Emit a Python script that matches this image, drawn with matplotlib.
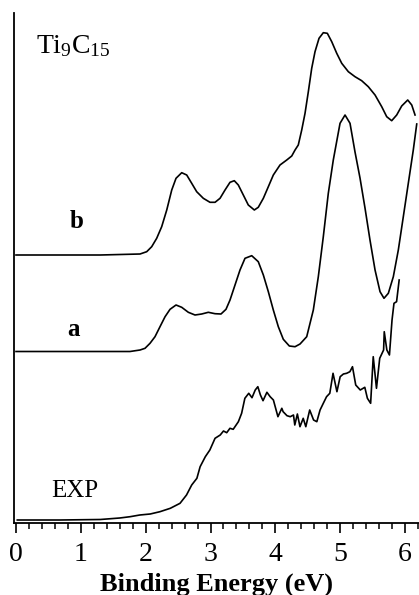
import matplotlib
matplotlib.use("Agg")
import matplotlib.pyplot as plt
from matplotlib.ticker import MultipleLocator

plt.rcParams['font.family'] = ['Liberation Serif', 'DejaVu Serif']
plt.rcParams['mathtext.fontset'] = 'custom'
plt.rcParams['mathtext.rm'] = 'Liberation Serif'

# calculated spectrum b (offset trace, top)
energy_b = [0.000, 0.700, 1.300, 1.913, 2.016, 2.093, 2.170, 2.247, 2.325, 2.402, 2.468,
            2.556, 2.633, 2.710, 2.787, 2.889, 2.992, 3.070, 3.147, 3.224, 3.301, 3.367,
            3.429, 3.506, 3.583, 3.676, 3.737, 3.815, 3.892, 3.969, 4.072, 4.176, 4.253,
            4.304, 4.354, 4.407, 4.458, 4.509, 4.561, 4.612, 4.674, 4.740, 4.802, 4.870,
            4.947, 5.024, 5.126, 5.229, 5.332, 5.434, 5.538, 5.641, 5.718, 5.795, 5.872,
            5.949, 6.042, 6.104, 6.155]
intens_b = [268, 268, 268, 269, 271.3, 276.3, 284.7, 296.3, 313, 333, 344.7,
            350.3, 348, 339.7, 331.3, 324.7, 320.7, 320.7, 324.7, 333, 340.7, 342.3,
            338, 328, 318, 313, 315.7, 324.7, 336.3, 348, 358, 363, 367,
            373, 378, 393, 409.7, 431.3, 454.7, 471.3, 484.7, 490.3, 489.7, 481.3,
            469.7, 459.7, 451.3, 446.3, 442.3, 436.3, 428, 416.3, 406.3, 402.3, 408,
            417, 423, 418, 408]

# calculated spectrum a (offset trace, middle)
energy_a = [0.000, 0.700, 1.300, 1.758, 1.913, 1.990, 2.067, 2.144, 2.221, 2.299, 2.376,
            2.468, 2.556, 2.658, 2.761, 2.864, 2.966, 3.070, 3.162, 3.239, 3.301, 3.378,
            3.455, 3.532, 3.636, 3.737, 3.815, 3.892, 3.969, 4.046, 4.123, 4.216, 4.304,
            4.381, 4.484, 4.586, 4.663, 4.740, 4.817, 4.894, 4.998, 5.075, 5.152, 5.229,
            5.306, 5.383, 5.460, 5.538, 5.615, 5.676, 5.743, 5.820, 5.897, 5.974, 6.051,
            6.128, 6.181]
intens_a = [171.5, 171.5, 171.5, 171.5, 173, 174.7, 179.7, 186.3, 196.3, 206.3, 213.7,
            218, 215.7, 210.7, 208, 209, 210.7, 209.3, 209, 213.7, 223, 238,
            253, 264.7, 267.3, 261.3, 248, 231.3, 213, 196.3, 183.7, 177, 176.3,
            179, 186.3, 213, 246.3, 286.3, 329.7, 363, 399.7, 408, 399.7, 371,
            345, 315, 283, 253, 231.3, 224.7, 229.7, 246.3, 273, 306.3, 339.7,
            373, 399]

# experimental photoelectron spectrum
energy_exp = [0.02, 0.68, 1.30, 1.60, 1.76, 1.91, 2.07, 2.22, 2.38, 2.53, 2.63, 2.71,
              2.79, 2.84, 2.92, 2.99, 3.07, 3.15, 3.20, 3.25, 3.30, 3.35, 3.43, 3.48,
              3.53, 3.59, 3.64, 3.69, 3.73, 3.77, 3.81, 3.87, 3.92, 3.97, 4.04, 4.10,
              4.12, 4.18, 4.23, 4.28, 4.30, 4.34, 4.38, 4.43, 4.47, 4.53, 4.59, 4.64,
              4.69, 4.74, 4.79, 4.84, 4.89, 4.95, 5.00, 5.05, 5.10, 5.15, 5.19, 5.24,
              5.31, 5.38, 5.42, 5.47, 5.51, 5.56, 5.61, 5.67, 5.68, 5.72, 5.76, 5.80,
              5.83, 5.87, 5.91]
intens_exp = [3, 3, 3.5, 5, 6.3, 8, 9, 11.3, 14.7, 19.7, 28, 38,
              44.7, 56.3, 66.3, 73, 84.7, 88, 92, 90.3, 94.7, 93.7, 101.3, 109.7,
              124.7, 129.7, 125.3, 133, 136.3, 128, 122.3, 130.7, 126.3, 123, 106.3, 114.7,
              111.3, 107.3, 106.3, 108, 98, 109, 96.3, 104.7, 96.3, 113, 103, 101.3,
              113, 119.7, 126.3, 129.7, 149.7, 131.3, 146.3, 149, 149.7, 151.3, 156.3, 138,
              133, 135.7, 124.7, 119.7, 166.3, 134.7, 164.7, 173, 191.3, 173, 168, 203,
              219.7, 221.3, 243]

fig = plt.figure(figsize=(4.19, 5.95), dpi=100)
ax = fig.add_axes([14 / 419, 72 / 595, 405 / 419, 510 / 595])

for e, y in [(energy_b, intens_b), (energy_a, intens_a), (energy_exp, intens_exp)]:
    ax.plot(e, y, color='black', lw=1.2, solid_joinstyle='round')

ax.text(0.88, 477, r'$\mathrm{Ti_9C_{15}}$', fontsize=20, ha='center', va='center')
ax.text(0.93, 301, 'b', fontsize=18, fontweight='bold', ha='center', va='center')
ax.text(0.88, 193, 'a', fontsize=18, fontweight='bold', ha='center', va='center')
ax.text(0.91, 32, 'EXP', fontsize=18, ha='center', va='center')

ax.set_xlim(-0.031, 6.216)
ax.set_ylim(0, 510)
ax.xaxis.set_ticks_position('bottom')
ax.xaxis.set_major_locator(MultipleLocator(1))
ax.xaxis.set_minor_locator(MultipleLocator(0.2))
ax.tick_params(axis='x', which='major', direction='out', length=7.5, width=1.2,
               labelsize=20, pad=6, color='black')
ax.tick_params(axis='x', which='minor', direction='out', length=4, width=1.1,
               color='black')
ax.set_yticks([])
ax.spines['top'].set_visible(False)
ax.spines['right'].set_visible(False)
ax.spines['left'].set_linewidth(1.3)
ax.spines['bottom'].set_linewidth(1.3)
ax.set_xlabel('Binding Energy (eV)', fontsize=19, fontweight='bold', labelpad=4)

fig.savefig('out.png', dpi=100)
